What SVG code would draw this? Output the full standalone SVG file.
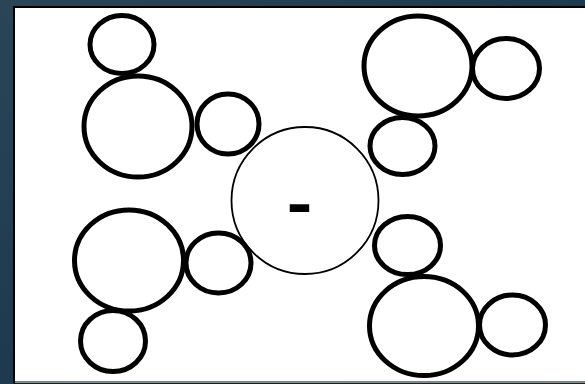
<svg xmlns="http://www.w3.org/2000/svg" width="585" height="384" viewBox="0 0 585 384">
  <defs>
    <linearGradient id="bg" x1="0" y1="0" x2="1" y2="1">
      <stop offset="0" stop-color="#2a4555"/>
      <stop offset="0.5" stop-color="#1d3a4e"/>
      <stop offset="1" stop-color="#2f4a5a"/>
    </linearGradient>
  </defs>
  <style>
    .n { fill: #ffffff; stroke: #000000; stroke-width: 5; }
    .c { fill: #ffffff; stroke: #000000; stroke-width: 1.8; }
    .t { font-family: "Liberation Sans", Arial, sans-serif; font-weight: bold; font-size: 64px; fill: #000000; }
  </style>
  <rect x="0" y="0" width="585" height="384" fill="url(#bg)"/>
  <rect x="14" y="7" width="572" height="375.5" fill="#ffffff" stroke="#000000" stroke-width="2"/>
  <line x1="15" y1="382.5" x2="585" y2="382.5" stroke="#8a8a8a" stroke-width="1"/>
  <g id="connectors"></g>
  <g id="center">
    <circle class="c" cx="305" cy="200.5" r="73.5"/>
    <text class="t" x="299.5" y="225" text-anchor="middle" textLength="25.5" lengthAdjust="spacingAndGlyphs">-</text>
  </g>
  <g id="tl-top"><ellipse class="n" cx="122" cy="44.5" rx="32" ry="29"/></g>
  <g id="tl-big"><ellipse class="n" cx="138" cy="126.5" rx="54" ry="50.5"/></g>
  <g id="tl-right"><ellipse class="n" cx="228" cy="124" rx="31" ry="30"/></g>
  <g id="tr-big"><ellipse class="n" cx="418" cy="66" rx="54" ry="50"/></g>
  <g id="tr-right"><ellipse class="n" cx="506" cy="68.5" rx="33.5" ry="30"/></g>
  <g id="tr-bottom"><ellipse class="n" cx="402.5" cy="146" rx="32.5" ry="28.5"/></g>
  <g id="bl-big"><ellipse class="n" cx="129" cy="260.5" rx="54.5" ry="50.5"/></g>
  <g id="bl-right"><ellipse class="n" cx="218.5" cy="263" rx="32.5" ry="30"/></g>
  <g id="bl-bottom"><ellipse class="n" cx="113" cy="341" rx="32.5" ry="30.5"/></g>
  <g id="br-top"><ellipse class="n" cx="407.5" cy="245.5" rx="33" ry="29"/></g>
  <g id="br-big"><ellipse class="n" cx="424" cy="326" rx="54.5" ry="49.5"/></g>
  <g id="br-right"><ellipse class="n" cx="512.5" cy="325" rx="33" ry="30"/></g>
</svg>
